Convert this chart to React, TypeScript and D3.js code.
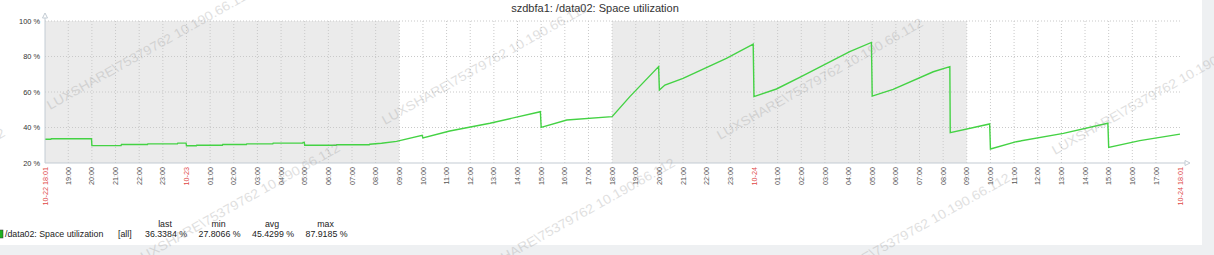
import React from "react";
import * as d3 from "d3";

const chartTitle = "szdbfa1: /data02: Space utilization";
const seriesName = "/data02: Space utilization";
const startTime = "10-22 18:01";
const endTime = "10-24 18:01";

const times = [
  "10-22 18:01", "10-22 18:16", "10-22 18:17", "10-22 19:59", "10-22 20:00",
  "10-22 21:14", "10-22 21:15", "10-22 22:21", "10-22 22:22", "10-22 23:37",
  "10-22 23:38", "10-22 23:59", "10-23 00:00", "10-23 00:25", "10-23 00:26",
  "10-23 01:31", "10-23 01:32", "10-23 02:32", "10-23 02:33", "10-23 03:39",
  "10-23 03:40", "10-23 04:55", "10-23 04:56", "10-23 04:59", "10-23 05:00",
  "10-23 06:20", "10-23 06:21", "10-23 07:44", "10-23 07:45", "10-23 08:15",
  "10-23 08:53", "10-23 09:58", "10-23 10:00", "10-23 11:08", "10-23 12:50",
  "10-23 14:58", "10-23 15:00", "10-23 16:05", "10-23 18:00", "10-23 18:45",
  "10-23 19:58", "10-23 20:00", "10-23 20:14", "10-23 21:00", "10-23 22:50",
  "10-23 23:58", "10-24 00:00", "10-24 00:57", "10-24 01:56", "10-24 04:03",
  "10-24 04:58", "10-24 05:00", "10-24 05:53", "10-24 07:35", "10-24 08:17",
  "10-24 08:18", "10-24 09:58", "10-24 10:00", "10-24 11:06", "10-24 13:05",
  "10-24 14:58", "10-24 15:00", "10-24 16:19", "10-24 18:01",
];
const values = [
  33.4, 33.4, 33.7, 33.7, 29.8,
  29.8, 30.4, 30.4, 30.8, 30.8,
  31.2, 31.2, 29.7, 29.7, 30.0,
  30.0, 30.4, 30.4, 30.8, 30.8,
  31.2, 31.2, 31.6, 31.6, 30.0,
  30.0, 30.3, 30.3, 30.6, 31.1,
  32.2, 35.6, 34.1, 38.0, 42.4,
  48.9, 40.1, 44.2, 46.1, 57.4,
  74.3, 61.1, 63.9, 67.7, 79.0,
  87.0, 57.4, 61.7, 68.3, 82.7,
  87.9, 57.7, 61.5, 71.4, 74.3,
  37.1, 42.0, 27.9, 32.0, 36.7,
  42.4, 28.8, 32.6, 36.3,
];

const yTicks = [20, 40, 60, 80, 100];
const shadedStarts = ["10-22 18:01", "10-23 18:00"];
const shadedEnds = ["10-23 09:00", "10-24 09:00"];
const legendHeaders = ["last", "min", "avg", "max"];
const legendValues = ["36.3384 %", "27.8066 %", "45.4299 %", "87.9185 %"];
const watermarkText = "LUXSHARE\\75379762  10.190.66.112";

const parse = (s: string) => d3.timeParse("%Y-%m-%d %H:%M")("2023-" + s) as Date;

export default function App() {
  const W = 1214, H = 255;
  const left = 45, right = 1180, top = 21, bottom = 163;
  const t0 = parse(startTime), t1 = parse(endTime);
  const x = d3.scaleTime().domain([t0, t1]).range([left, right]);
  const y = d3.scaleLinear().domain([20, 100]).range([bottom, top]);
  const pts = times.map((t, i) => [parse(t), values[i]] as [Date, number]);
  const line = d3.line<[Date, number]>().x(d => x(d[0])).y(d => y(d[1]));
  const hours = d3.timeHour.range(d3.timeHour.ceil(t0), t1).filter(d => right - x(d) > 6);
  const fmtH = d3.timeFormat("%H:%M");
  const fmtD = d3.timeFormat("%m-%d");
  const fmtFull = d3.timeFormat("%m-%d %H:%M");
  const font = "'Liberation Sans', Arial, sans-serif";
  const grid = "#c9c9c9";
  const axisColor = "#c3ccd4";

  const marks: { label: string; x: number; red: boolean }[] = [];
  marks.push({ label: fmtFull(t0), x: x(t0), red: true });
  hours.forEach(h => {
    const mid = h.getHours() === 0;
    marks.push({ label: mid ? fmtD(h) : fmtH(h), x: x(h), red: mid });
  });
  marks.push({ label: fmtFull(t1), x: x(t1), red: true });

  const wm: { x: number; y: number }[] = [];
  for (let j = 0; j <= 1; j++)
    for (let i = -1; i <= 3; i++)
      wm.push({ x: 50 + 335 * i + 87 * j, y: 110 + 15 * i + 155 * j });

  return (
    <svg width={W} height={H} style={{ position: "absolute", left: 0, top: 0, background: "#fff" }} fontFamily={font}>
      <rect x={0} y={245} width={W} height={H - 245} fill="#eef0f2" />
      <rect x={1202} y={0} width={W - 1202} height={H} fill="#eef0f2" />
      <text x={595} y={12} textAnchor="middle" fontSize={11} fill="#333">{chartTitle}</text>
      {shadedStarts.map((s, i) => (
        <rect key={i} x={x(parse(s))} y={top} width={x(parse(shadedEnds[i])) - x(parse(s))} height={bottom - top} fill="#ebebeb" />
      ))}
      {hours.map((h, i) => (
        <line key={i} x1={x(h)} x2={x(h)} y1={top} y2={bottom} stroke={grid} strokeDasharray="1,2" />
      ))}
      {yTicks.slice(1).map(v => (
        <line key={v} x1={left} x2={right} y1={y(v)} y2={y(v)} stroke={grid} strokeDasharray="1,2" />
      ))}
      {yTicks.map(v => (
        <text key={v} x={40} y={y(v) + 2.5} textAnchor="end" fontSize={7.4} fill="#333">{v} %</text>
      ))}
      <path d={line(pts) || ""} fill="none" stroke="#44d244" strokeWidth={1.4} />
      <line x1={left} x2={left} y1={bottom} y2={15} stroke={axisColor} />
      <path d={`M${left - 2.5},18 L${left},13 L${left + 2.5},18 Z`} fill="#fff" stroke={axisColor} />
      <line x1={left} x2={1185} y1={bottom} y2={bottom} stroke={axisColor} strokeWidth={1.2} />
      <path d={`M1185,${bottom - 2.5} L1190,${bottom} L1185,${bottom + 2.5} Z`} fill="#fff" stroke={axisColor} />
      {marks.map((m, i) => (
        <text key={i} transform={`translate(${m.x + 2.6},167) rotate(-90)`} textAnchor="end" fontSize={7.2} fill={m.red ? "#e04848" : "#555"}>{m.label}</text>
      ))}
      <rect x={-5} y={230} width={8} height={8} fill="#1fb01f" stroke="#333" strokeWidth={0.5} />
      <text x={5} y={237} fontSize={8.8} fill="#222">{seriesName}</text>
      <text x={118} y={237} fontSize={8.8} fill="#222">[all]</text>
      {legendHeaders.map((h, i) => (
        <text key={h} x={165 + 53.5 * i} y={227} textAnchor="middle" fontSize={8.8} fill="#222">{h}</text>
      ))}
      {legendValues.map((v, i) => (
        <text key={v} x={145 + 53.5 * i} y={237} fontSize={8.8} fill="#222">{v}</text>
      ))}
      {wm.map((p, i) => (
        <text key={i} transform={`translate(${p.x},${p.y}) rotate(-29.3)`} fontSize={13} fill="#999" opacity={0.3} textLength={234} lengthAdjust="spacingAndGlyphs">{watermarkText}</text>
      ))}
    </svg>
  );
}
